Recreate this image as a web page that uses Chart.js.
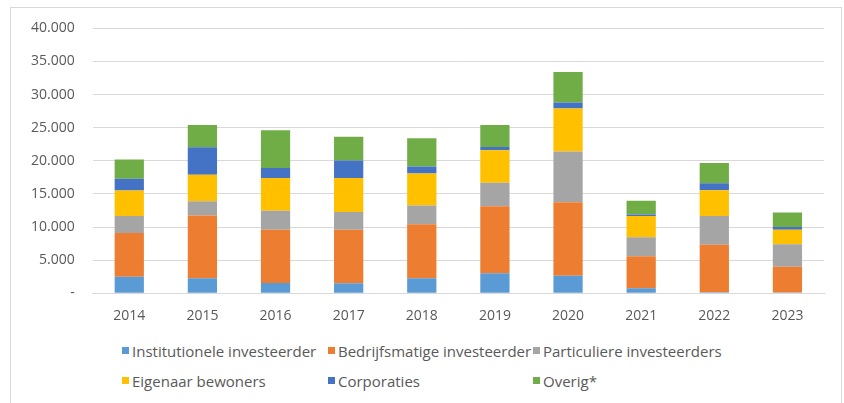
<!DOCTYPE html>
<html>
<head>
<meta charset="utf-8">
<script src="https://cdn.jsdelivr.net/npm/chart.js@4"></script>
<style>
  html, body { margin: 0; padding: 0; background: #fff; }
  body { width: 844px; height: 403px; overflow: hidden; position: relative; font-family: 'Open Sans', sans-serif; }
  #frame { position: absolute; left: 10px; top: 7px; width: 830px; height: 400px; border: 1px solid #d9d9d9; }
  #wrap { position: absolute; left: 0; top: -6px; width: 830px; height: 336px; }
  #legend { position: absolute; left: 111px; top: 333px; width: 660px; display: grid;
            grid-template-columns: 206px 205px 240px; row-gap: 11px; color: #595959; font-size: 15px; }
  #legend span.item { display: flex; align-items: center; white-space: nowrap; height: 19px; }
  #legend span.box { display: inline-block; width: 7px; height: 7px; margin-right: 3px; }
</style>
</head>
<body>
<div id="frame">
  <div id="wrap"><canvas id="stackChart"></canvas></div>
  <div id="legend"></div>
</div>
<script>
// categories
const years = ['2014', '2015', '2016', '2017', '2018', '2019', '2020', '2021', '2022', '2023'];

// series values
const institutioneel = [2500, 2250, 1550, 1500, 2250, 3000, 2650, 750, 150, 100];
const bedrijfsmatig = [6600, 9500, 8050, 8100, 8150, 10150, 11100, 4850, 7150, 3900];
const particulier = [2550, 2150, 2850, 2650, 2850, 3550, 7650, 2850, 4350, 3400];
const eigenaarBewoners = [3850, 4000, 4950, 5150, 4850, 4900, 6500, 3200, 3900, 2200];
const corporaties = [1800, 4150, 1500, 2650, 1050, 500, 900, 250, 1050, 400];
const overig = [2900, 3350, 5700, 3600, 4250, 3300, 4600, 2050, 3050, 2200];

const seriesNames = ['Institutionele investeerder', 'Bedrijfsmatige investeerder', 'Particuliere investeerders',
                     'Eigenaar bewoners', 'Corporaties', 'Overig*'];
const seriesColors = ['#5B9BD5', '#ED7D31', '#A5A5A5', '#FFC000', '#4472C4', '#70AD47'];
const seriesValues = [institutioneel, bedrijfsmatig, particulier, eigenaarBewoners, corporaties, overig];

const textColor = '#595959';

const ctx = document.getElementById('stackChart').getContext('2d');
const stackChart = new Chart(ctx, {
    type: 'bar',
    data: {
        labels: years,
        datasets: seriesNames.map((name, i) => ({
            label: name,
            data: seriesValues[i],
            backgroundColor: seriesColors[i],
            borderWidth: 0,
            categoryPercentage: 1,
            barPercentage: 0.4
        }))
    },
    options: {
        responsive: true,
        maintainAspectRatio: false,
        animation: false,
        layout: { padding: { left: 2, right: 17, top: 6, bottom: 0 } },
        plugins: {
            legend: { display: false },
            tooltip: { enabled: false }
        },
        scales: {
            x: {
                stacked: true,
                grid: { display: false, drawTicks: false },
                border: { color: '#d9d9d9', width: 1 },
                ticks: { color: textColor, font: { family: 'Open Sans', size: 14 }, padding: 14 }
            },
            y: {
                stacked: true,
                min: 0,
                max: 40000,
                grid: { color: '#d9d9d9', drawTicks: false },
                border: { display: false },
                ticks: {
                    stepSize: 5000,
                    color: textColor,
                    font: { family: 'Open Sans', size: 14 },
                    padding: 18,
                    callback: v => v === 0 ? '-' : v.toLocaleString('nl-NL')
                }
            }
        }
    }
});

// html legend in three fixed columns
const legendEl = document.getElementById('legend');
seriesNames.forEach((name, i) => {
    const item = document.createElement('span');
    item.className = 'item';
    const box = document.createElement('span');
    box.className = 'box';
    box.style.background = seriesColors[i];
    item.appendChild(box);
    item.appendChild(document.createTextNode(name));
    legendEl.appendChild(item);
});
</script>
</body>
</html>
